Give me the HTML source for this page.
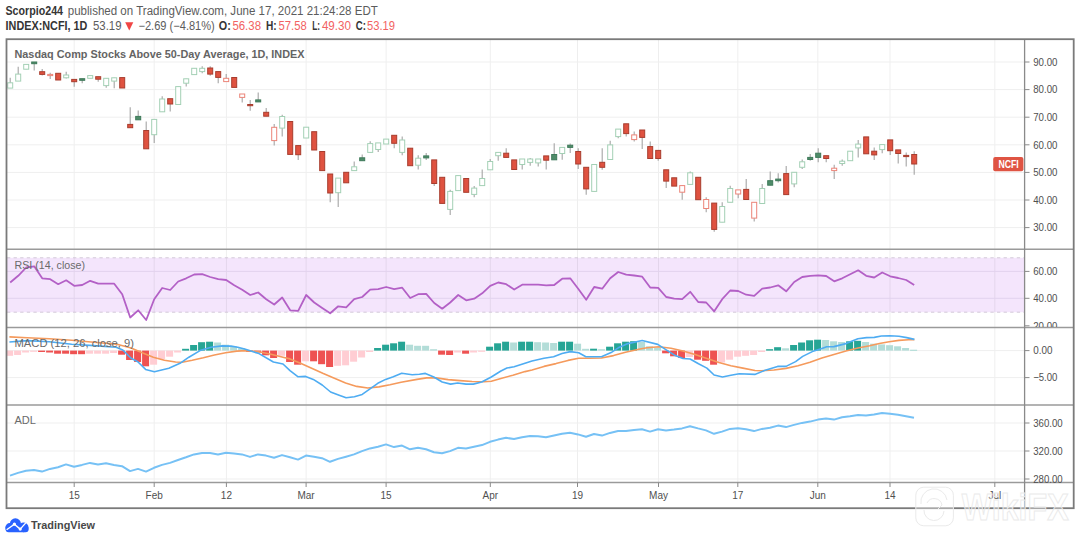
<!DOCTYPE html>
<html><head><meta charset="utf-8"><style>
html,body{margin:0;padding:0;background:#fff;width:1080px;height:542px;overflow:hidden}
svg{display:block;font-family:"Liberation Sans",sans-serif}
</style></head><body>
<svg width="1080" height="542" viewBox="0 0 1080 542">
<rect x="7" y="257.8" width="1017" height="54.4" fill="#f4e5fc"/>
<line x1="74.2" y1="40" x2="74.2" y2="482" stroke="rgba(0,0,0,0.065)" stroke-width="1"/>
<line x1="154.2" y1="40" x2="154.2" y2="482" stroke="rgba(0,0,0,0.065)" stroke-width="1"/>
<line x1="226.4" y1="40" x2="226.4" y2="482" stroke="rgba(0,0,0,0.065)" stroke-width="1"/>
<line x1="306.1" y1="40" x2="306.1" y2="482" stroke="rgba(0,0,0,0.065)" stroke-width="1"/>
<line x1="386.1" y1="40" x2="386.1" y2="482" stroke="rgba(0,0,0,0.065)" stroke-width="1"/>
<line x1="490.3" y1="40" x2="490.3" y2="482" stroke="rgba(0,0,0,0.065)" stroke-width="1"/>
<line x1="577.5" y1="40" x2="577.5" y2="482" stroke="rgba(0,0,0,0.065)" stroke-width="1"/>
<line x1="658.5" y1="40" x2="658.5" y2="482" stroke="rgba(0,0,0,0.065)" stroke-width="1"/>
<line x1="737.8" y1="40" x2="737.8" y2="482" stroke="rgba(0,0,0,0.065)" stroke-width="1"/>
<line x1="817.8" y1="40" x2="817.8" y2="482" stroke="rgba(0,0,0,0.065)" stroke-width="1"/>
<line x1="890" y1="40" x2="890" y2="482" stroke="rgba(0,0,0,0.065)" stroke-width="1"/>
<line x1="994.8" y1="40" x2="994.8" y2="482" stroke="rgba(0,0,0,0.065)" stroke-width="1"/>
<line x1="7" y1="62.0" x2="1024" y2="62.0" stroke="#efefef" stroke-width="1"/>
<line x1="7" y1="89.6" x2="1024" y2="89.6" stroke="#efefef" stroke-width="1"/>
<line x1="7" y1="117.2" x2="1024" y2="117.2" stroke="#efefef" stroke-width="1"/>
<line x1="7" y1="144.8" x2="1024" y2="144.8" stroke="#efefef" stroke-width="1"/>
<line x1="7" y1="172.4" x2="1024" y2="172.4" stroke="#efefef" stroke-width="1"/>
<line x1="7" y1="200.0" x2="1024" y2="200.0" stroke="#efefef" stroke-width="1"/>
<line x1="7" y1="227.6" x2="1024" y2="227.6" stroke="#efefef" stroke-width="1"/>
<line x1="7" y1="271.4" x2="1024" y2="271.4" stroke="#e2d2ee" stroke-width="1"/>
<line x1="7" y1="298.3" x2="1024" y2="298.3" stroke="#e2d2ee" stroke-width="1"/>
<line x1="7" y1="257.8" x2="1024" y2="257.8" stroke="#d2c8d8" stroke-width="1" stroke-dasharray="3.3,3.3"/>
<line x1="7" y1="312.2" x2="1024" y2="312.2" stroke="#d2c8d8" stroke-width="1" stroke-dasharray="3.3,3.3"/>
<line x1="7" y1="350.6" x2="1024" y2="350.6" stroke="#efefef" stroke-width="1"/>
<line x1="7" y1="377.6" x2="1024" y2="377.6" stroke="#efefef" stroke-width="1"/>
<line x1="7" y1="423" x2="1024" y2="423" stroke="#efefef" stroke-width="1"/>
<line x1="7" y1="451" x2="1024" y2="451" stroke="#efefef" stroke-width="1"/>
<line x1="7" y1="479" x2="1024" y2="479" stroke="#efefef" stroke-width="1"/>
<line x1="10.2" y1="77.8" x2="10.2" y2="88.1" stroke="#a4a4a4" stroke-width="1.1"/>
<rect x="7.7" y="82.8" width="5" height="5.3" fill="#ffffff" stroke="#a3d0b5" stroke-width="1"/>
<line x1="18.2" y1="66.7" x2="18.2" y2="81.1" stroke="#a4a4a4" stroke-width="1.1"/>
<rect x="15.7" y="74.1" width="5" height="7.0" fill="#ffffff" stroke="#a3d0b5" stroke-width="1"/>
<line x1="26.2" y1="64.4" x2="26.2" y2="69.2" stroke="#a4a4a4" stroke-width="1.1"/>
<rect x="23.7" y="64.4" width="5" height="4.8" fill="#ffffff" stroke="#a3d0b5" stroke-width="1"/>
<line x1="34.2" y1="62.0" x2="34.2" y2="70.6" stroke="#a4a4a4" stroke-width="1.1"/>
<rect x="31.7" y="62.0" width="5" height="1.7" fill="#4f8c69" stroke="#3f7a5a" stroke-width="1"/>
<line x1="42.2" y1="68.9" x2="42.2" y2="75.6" stroke="#a4a4a4" stroke-width="1.1"/>
<rect x="39.7" y="71.7" width="5" height="2.7" fill="#df5240" stroke="#a83d2e" stroke-width="1"/>
<line x1="50.2" y1="72.8" x2="50.2" y2="78.9" stroke="#a4a4a4" stroke-width="1.1"/>
<rect x="47.7" y="74.4" width="5" height="1.2" fill="#ffffff" stroke="#ec8478" stroke-width="1"/>
<line x1="58.2" y1="73.3" x2="58.2" y2="80.0" stroke="#a4a4a4" stroke-width="1.1"/>
<rect x="55.7" y="73.3" width="5" height="6.7" fill="#df5240" stroke="#a83d2e" stroke-width="1"/>
<line x1="66.2" y1="71.7" x2="66.2" y2="78.5" stroke="#a4a4a4" stroke-width="1.1"/>
<rect x="63.7" y="75.0" width="5" height="2.8" fill="#ffffff" stroke="#a3d0b5" stroke-width="1"/>
<line x1="74.2" y1="79.4" x2="74.2" y2="86.7" stroke="#a4a4a4" stroke-width="1.1"/>
<rect x="71.7" y="79.4" width="5" height="2.3" fill="#df5240" stroke="#a83d2e" stroke-width="1"/>
<line x1="82.2" y1="78.7" x2="82.2" y2="83.3" stroke="#a4a4a4" stroke-width="1.1"/>
<rect x="79.7" y="78.7" width="5" height="1.6" fill="#4f8c69" stroke="#3f7a5a" stroke-width="1"/>
<line x1="90.2" y1="75.6" x2="90.2" y2="78.3" stroke="#a4a4a4" stroke-width="1.1"/>
<rect x="87.7" y="75.6" width="5" height="2.7" fill="#ffffff" stroke="#a3d0b5" stroke-width="1"/>
<line x1="98.2" y1="76.7" x2="98.2" y2="81.7" stroke="#a4a4a4" stroke-width="1.1"/>
<rect x="95.7" y="76.7" width="5" height="2.5" fill="#df5240" stroke="#a83d2e" stroke-width="1"/>
<line x1="106.2" y1="78.3" x2="106.2" y2="87.8" stroke="#a4a4a4" stroke-width="1.1"/>
<rect x="103.7" y="78.3" width="5" height="7.3" fill="#ffffff" stroke="#a3d0b5" stroke-width="1"/>
<line x1="114.2" y1="77.8" x2="114.2" y2="88.3" stroke="#a4a4a4" stroke-width="1.1"/>
<rect x="111.7" y="77.8" width="5" height="3.3" fill="#ffffff" stroke="#a3d0b5" stroke-width="1"/>
<line x1="122.2" y1="77.6" x2="122.2" y2="88.0" stroke="#a4a4a4" stroke-width="1.1"/>
<rect x="119.7" y="77.6" width="5" height="10.4" fill="#df5240" stroke="#a83d2e" stroke-width="1"/>
<line x1="130.2" y1="107.3" x2="130.2" y2="127.7" stroke="#a4a4a4" stroke-width="1.1"/>
<rect x="127.7" y="124.4" width="5" height="3.3" fill="#df5240" stroke="#a83d2e" stroke-width="1"/>
<line x1="138.2" y1="110.6" x2="138.2" y2="119.8" stroke="#a4a4a4" stroke-width="1.1"/>
<rect x="135.7" y="116.4" width="5" height="3.4" fill="#4f8c69" stroke="#3f7a5a" stroke-width="1"/>
<line x1="146.2" y1="121.4" x2="146.2" y2="148.8" stroke="#a4a4a4" stroke-width="1.1"/>
<rect x="143.7" y="130.5" width="5" height="18.3" fill="#df5240" stroke="#a83d2e" stroke-width="1"/>
<line x1="154.2" y1="119.4" x2="154.2" y2="143.0" stroke="#a4a4a4" stroke-width="1.1"/>
<rect x="151.7" y="119.4" width="5" height="15.3" fill="#ffffff" stroke="#a3d0b5" stroke-width="1"/>
<line x1="162.2" y1="96.2" x2="162.2" y2="111.8" stroke="#a4a4a4" stroke-width="1.1"/>
<rect x="159.7" y="99.0" width="5" height="12.8" fill="#ffffff" stroke="#a3d0b5" stroke-width="1"/>
<line x1="170.2" y1="98.7" x2="170.2" y2="111.5" stroke="#a4a4a4" stroke-width="1.1"/>
<rect x="167.7" y="98.7" width="5" height="5.3" fill="#df5240" stroke="#a83d2e" stroke-width="1"/>
<line x1="178.2" y1="86.6" x2="178.2" y2="104.5" stroke="#a4a4a4" stroke-width="1.1"/>
<rect x="175.7" y="86.6" width="5" height="17.9" fill="#ffffff" stroke="#a3d0b5" stroke-width="1"/>
<line x1="186.2" y1="78.8" x2="186.2" y2="86.6" stroke="#a4a4a4" stroke-width="1.1"/>
<rect x="183.7" y="78.8" width="5" height="4.4" fill="#ffffff" stroke="#a3d0b5" stroke-width="1"/>
<line x1="194.2" y1="68.3" x2="194.2" y2="74.6" stroke="#a4a4a4" stroke-width="1.1"/>
<rect x="191.7" y="68.3" width="5" height="6.3" fill="#ffffff" stroke="#a3d0b5" stroke-width="1"/>
<line x1="202.2" y1="66.3" x2="202.2" y2="73.3" stroke="#a4a4a4" stroke-width="1.1"/>
<rect x="199.7" y="68.3" width="5" height="3.3" fill="#ffffff" stroke="#a3d0b5" stroke-width="1"/>
<line x1="210.2" y1="66.3" x2="210.2" y2="75.8" stroke="#a4a4a4" stroke-width="1.1"/>
<rect x="207.7" y="68.0" width="5" height="6.1" fill="#df5240" stroke="#a83d2e" stroke-width="1"/>
<line x1="218.2" y1="71.6" x2="218.2" y2="83.2" stroke="#a4a4a4" stroke-width="1.1"/>
<rect x="215.7" y="71.6" width="5" height="5.8" fill="#df5240" stroke="#a83d2e" stroke-width="1"/>
<line x1="226.2" y1="74.1" x2="226.2" y2="81.6" stroke="#a4a4a4" stroke-width="1.1"/>
<rect x="223.7" y="78.3" width="5" height="3.3" fill="#ffffff" stroke="#ec8478" stroke-width="1"/>
<line x1="234.2" y1="77.5" x2="234.2" y2="87.4" stroke="#a4a4a4" stroke-width="1.1"/>
<rect x="231.7" y="77.5" width="5" height="9.9" fill="#df5240" stroke="#a83d2e" stroke-width="1"/>
<line x1="242.2" y1="94.0" x2="242.2" y2="102.4" stroke="#a4a4a4" stroke-width="1.1"/>
<rect x="239.7" y="94.0" width="5" height="3.4" fill="#ffffff" stroke="#ec8478" stroke-width="1"/>
<line x1="250.2" y1="99.9" x2="250.2" y2="110.7" stroke="#a4a4a4" stroke-width="1.1"/>
<rect x="247.7" y="104.5" width="5" height="1.2" fill="#df5240" stroke="#a83d2e" stroke-width="1"/>
<line x1="258.2" y1="92.4" x2="258.2" y2="101.9" stroke="#a4a4a4" stroke-width="1.1"/>
<rect x="255.7" y="99.9" width="5" height="2.0" fill="#4f8c69" stroke="#3f7a5a" stroke-width="1"/>
<line x1="266.2" y1="107.9" x2="266.2" y2="116.2" stroke="#a4a4a4" stroke-width="1.1"/>
<rect x="263.7" y="112.3" width="5" height="3.9" fill="#df5240" stroke="#a83d2e" stroke-width="1"/>
<line x1="274.2" y1="124.0" x2="274.2" y2="145.6" stroke="#a4a4a4" stroke-width="1.1"/>
<rect x="271.7" y="127.3" width="5" height="13.3" fill="#ffffff" stroke="#ec8478" stroke-width="1"/>
<line x1="282.2" y1="114.8" x2="282.2" y2="136.4" stroke="#a4a4a4" stroke-width="1.1"/>
<rect x="279.7" y="116.5" width="5" height="11.6" fill="#ffffff" stroke="#a3d0b5" stroke-width="1"/>
<line x1="290.2" y1="121.5" x2="290.2" y2="154.4" stroke="#a4a4a4" stroke-width="1.1"/>
<rect x="287.7" y="121.5" width="5" height="32.9" fill="#df5240" stroke="#a83d2e" stroke-width="1"/>
<line x1="298.2" y1="145.6" x2="298.2" y2="160.0" stroke="#a4a4a4" stroke-width="1.1"/>
<rect x="295.7" y="145.6" width="5" height="9.1" fill="#df5240" stroke="#a83d2e" stroke-width="1"/>
<line x1="306.2" y1="127.2" x2="306.2" y2="138.0" stroke="#a4a4a4" stroke-width="1.1"/>
<rect x="303.7" y="127.2" width="5" height="10.8" fill="#ffffff" stroke="#a3d0b5" stroke-width="1"/>
<line x1="314.2" y1="131.7" x2="314.2" y2="150.0" stroke="#a4a4a4" stroke-width="1.1"/>
<rect x="311.7" y="131.7" width="5" height="18.3" fill="#df5240" stroke="#a83d2e" stroke-width="1"/>
<line x1="322.2" y1="151.5" x2="322.2" y2="170.6" stroke="#a4a4a4" stroke-width="1.1"/>
<rect x="319.7" y="151.5" width="5" height="19.1" fill="#df5240" stroke="#a83d2e" stroke-width="1"/>
<line x1="330.2" y1="174.0" x2="330.2" y2="202.2" stroke="#a4a4a4" stroke-width="1.1"/>
<rect x="327.7" y="174.0" width="5" height="19.0" fill="#df5240" stroke="#a83d2e" stroke-width="1"/>
<line x1="338.2" y1="178.1" x2="338.2" y2="207.0" stroke="#a4a4a4" stroke-width="1.1"/>
<rect x="335.7" y="178.1" width="5" height="14.6" fill="#ffffff" stroke="#a3d0b5" stroke-width="1"/>
<line x1="346.2" y1="172.3" x2="346.2" y2="182.8" stroke="#a4a4a4" stroke-width="1.1"/>
<rect x="343.7" y="172.3" width="5" height="10.5" fill="#df5240" stroke="#a83d2e" stroke-width="1"/>
<line x1="354.2" y1="161.5" x2="354.2" y2="170.6" stroke="#a4a4a4" stroke-width="1.1"/>
<rect x="351.7" y="166.8" width="5" height="3.8" fill="#ffffff" stroke="#a3d0b5" stroke-width="1"/>
<line x1="362.2" y1="154.5" x2="362.2" y2="160.7" stroke="#a4a4a4" stroke-width="1.1"/>
<rect x="359.7" y="157.8" width="5" height="2.9" fill="#4f8c69" stroke="#3f7a5a" stroke-width="1"/>
<line x1="370.2" y1="141.2" x2="370.2" y2="152.4" stroke="#a4a4a4" stroke-width="1.1"/>
<rect x="367.7" y="143.6" width="5" height="8.8" fill="#ffffff" stroke="#a3d0b5" stroke-width="1"/>
<line x1="378.2" y1="142.9" x2="378.2" y2="151.9" stroke="#a4a4a4" stroke-width="1.1"/>
<rect x="375.7" y="142.9" width="5" height="6.6" fill="#ffffff" stroke="#a3d0b5" stroke-width="1"/>
<line x1="386.2" y1="139.1" x2="386.2" y2="144.0" stroke="#a4a4a4" stroke-width="1.1"/>
<rect x="383.7" y="139.1" width="5" height="4.9" fill="#ffffff" stroke="#a3d0b5" stroke-width="1"/>
<line x1="394.2" y1="135.3" x2="394.2" y2="148.2" stroke="#a4a4a4" stroke-width="1.1"/>
<rect x="391.7" y="135.3" width="5" height="8.0" fill="#df5240" stroke="#a83d2e" stroke-width="1"/>
<line x1="402.2" y1="136.6" x2="402.2" y2="155.2" stroke="#a4a4a4" stroke-width="1.1"/>
<rect x="399.7" y="140.0" width="5" height="12.4" fill="#ffffff" stroke="#a3d0b5" stroke-width="1"/>
<line x1="410.2" y1="148.2" x2="410.2" y2="165.7" stroke="#a4a4a4" stroke-width="1.1"/>
<rect x="407.7" y="148.2" width="5" height="17.5" fill="#df5240" stroke="#a83d2e" stroke-width="1"/>
<line x1="418.2" y1="155.2" x2="418.2" y2="169.5" stroke="#a4a4a4" stroke-width="1.1"/>
<rect x="415.7" y="158.2" width="5" height="7.0" fill="#ffffff" stroke="#a3d0b5" stroke-width="1"/>
<line x1="426.2" y1="152.9" x2="426.2" y2="159.9" stroke="#a4a4a4" stroke-width="1.1"/>
<rect x="423.7" y="155.9" width="5" height="2.0" fill="#4f8c69" stroke="#3f7a5a" stroke-width="1"/>
<line x1="434.2" y1="159.9" x2="434.2" y2="186.1" stroke="#a4a4a4" stroke-width="1.1"/>
<rect x="431.7" y="159.9" width="5" height="23.6" fill="#df5240" stroke="#a83d2e" stroke-width="1"/>
<line x1="442.2" y1="177.3" x2="442.2" y2="203.4" stroke="#a4a4a4" stroke-width="1.1"/>
<rect x="439.7" y="177.3" width="5" height="26.1" fill="#df5240" stroke="#a83d2e" stroke-width="1"/>
<line x1="450.2" y1="189.8" x2="450.2" y2="215.0" stroke="#a4a4a4" stroke-width="1.1"/>
<rect x="447.7" y="191.4" width="5" height="18.0" fill="#ffffff" stroke="#a3d0b5" stroke-width="1"/>
<line x1="458.2" y1="175.6" x2="458.2" y2="190.6" stroke="#a4a4a4" stroke-width="1.1"/>
<rect x="455.7" y="175.6" width="5" height="15.0" fill="#ffffff" stroke="#a3d0b5" stroke-width="1"/>
<line x1="466.2" y1="178.5" x2="466.2" y2="192.3" stroke="#a4a4a4" stroke-width="1.1"/>
<rect x="463.7" y="178.5" width="5" height="13.8" fill="#df5240" stroke="#a83d2e" stroke-width="1"/>
<line x1="474.2" y1="186.1" x2="474.2" y2="197.2" stroke="#a4a4a4" stroke-width="1.1"/>
<rect x="471.7" y="188.1" width="5" height="6.3" fill="#ffffff" stroke="#a3d0b5" stroke-width="1"/>
<line x1="482.2" y1="169.5" x2="482.2" y2="185.6" stroke="#a4a4a4" stroke-width="1.1"/>
<rect x="479.7" y="178.5" width="5" height="7.1" fill="#ffffff" stroke="#a3d0b5" stroke-width="1"/>
<line x1="490.2" y1="159.0" x2="490.2" y2="169.8" stroke="#a4a4a4" stroke-width="1.1"/>
<rect x="487.7" y="161.5" width="5" height="8.3" fill="#ffffff" stroke="#a3d0b5" stroke-width="1"/>
<line x1="498.2" y1="152.4" x2="498.2" y2="160.7" stroke="#a4a4a4" stroke-width="1.1"/>
<rect x="495.7" y="152.4" width="5" height="3.3" fill="#ffffff" stroke="#a3d0b5" stroke-width="1"/>
<line x1="506.2" y1="148.2" x2="506.2" y2="157.4" stroke="#a4a4a4" stroke-width="1.1"/>
<rect x="503.7" y="153.2" width="5" height="4.2" fill="#df5240" stroke="#a83d2e" stroke-width="1"/>
<line x1="514.2" y1="159.9" x2="514.2" y2="169.5" stroke="#a4a4a4" stroke-width="1.1"/>
<rect x="511.7" y="159.9" width="5" height="9.6" fill="#df5240" stroke="#a83d2e" stroke-width="1"/>
<line x1="522.2" y1="159.0" x2="522.2" y2="169.5" stroke="#a4a4a4" stroke-width="1.1"/>
<rect x="519.7" y="159.0" width="5" height="5.5" fill="#ffffff" stroke="#a3d0b5" stroke-width="1"/>
<line x1="530.2" y1="157.9" x2="530.2" y2="165.7" stroke="#a4a4a4" stroke-width="1.1"/>
<rect x="527.7" y="159.0" width="5" height="3.4" fill="#ffffff" stroke="#a3d0b5" stroke-width="1"/>
<line x1="538.2" y1="159.0" x2="538.2" y2="166.5" stroke="#a4a4a4" stroke-width="1.1"/>
<rect x="535.7" y="159.0" width="5" height="3.9" fill="#ffffff" stroke="#a3d0b5" stroke-width="1"/>
<line x1="546.2" y1="155.9" x2="546.2" y2="169.5" stroke="#a4a4a4" stroke-width="1.1"/>
<rect x="543.7" y="155.9" width="5" height="4.3" fill="#df5240" stroke="#a83d2e" stroke-width="1"/>
<line x1="554.2" y1="143.2" x2="554.2" y2="159.8" stroke="#a4a4a4" stroke-width="1.1"/>
<rect x="551.7" y="154.5" width="5" height="5.3" fill="#4f8c69" stroke="#3f7a5a" stroke-width="1"/>
<line x1="562.2" y1="147.4" x2="562.2" y2="159.8" stroke="#a4a4a4" stroke-width="1.1"/>
<rect x="559.7" y="147.4" width="5" height="6.1" fill="#ffffff" stroke="#a3d0b5" stroke-width="1"/>
<line x1="570.2" y1="143.6" x2="570.2" y2="152.9" stroke="#a4a4a4" stroke-width="1.1"/>
<rect x="567.7" y="145.2" width="5" height="2.2" fill="#4f8c69" stroke="#3f7a5a" stroke-width="1"/>
<line x1="578.2" y1="148.2" x2="578.2" y2="169.0" stroke="#a4a4a4" stroke-width="1.1"/>
<rect x="575.7" y="151.5" width="5" height="12.5" fill="#df5240" stroke="#a83d2e" stroke-width="1"/>
<line x1="586.2" y1="167.3" x2="586.2" y2="194.7" stroke="#a4a4a4" stroke-width="1.1"/>
<rect x="583.7" y="167.3" width="5" height="21.6" fill="#df5240" stroke="#a83d2e" stroke-width="1"/>
<line x1="594.2" y1="164.5" x2="594.2" y2="191.4" stroke="#a4a4a4" stroke-width="1.1"/>
<rect x="591.7" y="164.5" width="5" height="26.9" fill="#ffffff" stroke="#a3d0b5" stroke-width="1"/>
<line x1="602.2" y1="148.2" x2="602.2" y2="169.8" stroke="#a4a4a4" stroke-width="1.1"/>
<rect x="599.7" y="162.3" width="5" height="5.0" fill="#df5240" stroke="#a83d2e" stroke-width="1"/>
<line x1="610.2" y1="140.7" x2="610.2" y2="159.5" stroke="#a4a4a4" stroke-width="1.1"/>
<rect x="607.7" y="144.9" width="5" height="14.6" fill="#ffffff" stroke="#a3d0b5" stroke-width="1"/>
<line x1="618.2" y1="129.1" x2="618.2" y2="138.2" stroke="#a4a4a4" stroke-width="1.1"/>
<rect x="615.7" y="129.1" width="5" height="7.5" fill="#ffffff" stroke="#a3d0b5" stroke-width="1"/>
<line x1="626.2" y1="123.8" x2="626.2" y2="136.6" stroke="#a4a4a4" stroke-width="1.1"/>
<rect x="623.7" y="123.8" width="5" height="9.8" fill="#df5240" stroke="#a83d2e" stroke-width="1"/>
<line x1="634.2" y1="131.6" x2="634.2" y2="141.6" stroke="#a4a4a4" stroke-width="1.1"/>
<rect x="631.7" y="134.9" width="5" height="4.7" fill="#ffffff" stroke="#ec8478" stroke-width="1"/>
<line x1="642.2" y1="130.0" x2="642.2" y2="149.0" stroke="#a4a4a4" stroke-width="1.1"/>
<rect x="639.7" y="130.0" width="5" height="7.4" fill="#df5240" stroke="#a83d2e" stroke-width="1"/>
<line x1="650.2" y1="141.6" x2="650.2" y2="158.5" stroke="#a4a4a4" stroke-width="1.1"/>
<rect x="647.7" y="146.6" width="5" height="11.9" fill="#df5240" stroke="#a83d2e" stroke-width="1"/>
<line x1="658.2" y1="150.4" x2="658.2" y2="160.7" stroke="#a4a4a4" stroke-width="1.1"/>
<rect x="655.7" y="150.4" width="5" height="8.1" fill="#df5240" stroke="#a83d2e" stroke-width="1"/>
<line x1="666.2" y1="169.8" x2="666.2" y2="188.0" stroke="#a4a4a4" stroke-width="1.1"/>
<rect x="663.7" y="169.8" width="5" height="11.3" fill="#df5240" stroke="#a83d2e" stroke-width="1"/>
<line x1="674.2" y1="177.8" x2="674.2" y2="186.1" stroke="#a4a4a4" stroke-width="1.1"/>
<rect x="671.7" y="177.8" width="5" height="8.3" fill="#df5240" stroke="#a83d2e" stroke-width="1"/>
<line x1="682.2" y1="185.6" x2="682.2" y2="199.7" stroke="#a4a4a4" stroke-width="1.1"/>
<rect x="679.7" y="185.6" width="5" height="6.6" fill="#ffffff" stroke="#ec8478" stroke-width="1"/>
<line x1="690.2" y1="171.5" x2="690.2" y2="184.4" stroke="#a4a4a4" stroke-width="1.1"/>
<rect x="687.7" y="172.8" width="5" height="11.6" fill="#ffffff" stroke="#a3d0b5" stroke-width="1"/>
<line x1="698.2" y1="177.3" x2="698.2" y2="199.7" stroke="#a4a4a4" stroke-width="1.1"/>
<rect x="695.7" y="177.3" width="5" height="22.4" fill="#df5240" stroke="#a83d2e" stroke-width="1"/>
<line x1="706.2" y1="197.3" x2="706.2" y2="212.3" stroke="#a4a4a4" stroke-width="1.1"/>
<rect x="703.7" y="199.5" width="5" height="9.0" fill="#ffffff" stroke="#ec8478" stroke-width="1"/>
<line x1="714.2" y1="203.1" x2="714.2" y2="231.7" stroke="#a4a4a4" stroke-width="1.1"/>
<rect x="711.7" y="203.1" width="5" height="26.3" fill="#df5240" stroke="#a83d2e" stroke-width="1"/>
<line x1="722.2" y1="202.3" x2="722.2" y2="222.2" stroke="#a4a4a4" stroke-width="1.1"/>
<rect x="719.7" y="206.5" width="5" height="15.7" fill="#ffffff" stroke="#a3d0b5" stroke-width="1"/>
<line x1="730.2" y1="185.7" x2="730.2" y2="202.3" stroke="#a4a4a4" stroke-width="1.1"/>
<rect x="727.7" y="188.5" width="5" height="13.8" fill="#ffffff" stroke="#a3d0b5" stroke-width="1"/>
<line x1="738.2" y1="189.9" x2="738.2" y2="198.2" stroke="#a4a4a4" stroke-width="1.1"/>
<rect x="735.7" y="189.9" width="5" height="4.1" fill="#ffffff" stroke="#ec8478" stroke-width="1"/>
<line x1="746.2" y1="179.1" x2="746.2" y2="199.5" stroke="#a4a4a4" stroke-width="1.1"/>
<rect x="743.7" y="189.4" width="5" height="10.1" fill="#df5240" stroke="#a83d2e" stroke-width="1"/>
<line x1="754.2" y1="202.3" x2="754.2" y2="221.4" stroke="#a4a4a4" stroke-width="1.1"/>
<rect x="751.7" y="202.3" width="5" height="15.8" fill="#ffffff" stroke="#ec8478" stroke-width="1"/>
<line x1="762.2" y1="184.0" x2="762.2" y2="203.5" stroke="#a4a4a4" stroke-width="1.1"/>
<rect x="759.7" y="188.5" width="5" height="15.0" fill="#ffffff" stroke="#a3d0b5" stroke-width="1"/>
<line x1="770.2" y1="171.6" x2="770.2" y2="185.2" stroke="#a4a4a4" stroke-width="1.1"/>
<rect x="767.7" y="180.7" width="5" height="4.5" fill="#4f8c69" stroke="#3f7a5a" stroke-width="1"/>
<line x1="778.2" y1="173.2" x2="778.2" y2="182.4" stroke="#a4a4a4" stroke-width="1.1"/>
<rect x="775.7" y="179.1" width="5" height="1.6" fill="#4f8c69" stroke="#3f7a5a" stroke-width="1"/>
<line x1="786.2" y1="166.0" x2="786.2" y2="194.6" stroke="#a4a4a4" stroke-width="1.1"/>
<rect x="783.7" y="173.6" width="5" height="21.0" fill="#df5240" stroke="#a83d2e" stroke-width="1"/>
<line x1="794.2" y1="172.3" x2="794.2" y2="187.3" stroke="#a4a4a4" stroke-width="1.1"/>
<rect x="791.7" y="172.3" width="5" height="11.6" fill="#ffffff" stroke="#a3d0b5" stroke-width="1"/>
<line x1="802.2" y1="159.5" x2="802.2" y2="169.0" stroke="#a4a4a4" stroke-width="1.1"/>
<rect x="799.7" y="161.8" width="5" height="5.5" fill="#ffffff" stroke="#a3d0b5" stroke-width="1"/>
<line x1="810.2" y1="154.0" x2="810.2" y2="160.7" stroke="#a4a4a4" stroke-width="1.1"/>
<rect x="807.7" y="157.4" width="5" height="2.1" fill="#4f8c69" stroke="#3f7a5a" stroke-width="1"/>
<line x1="818.2" y1="148.2" x2="818.2" y2="162.3" stroke="#a4a4a4" stroke-width="1.1"/>
<rect x="815.7" y="153.2" width="5" height="4.2" fill="#4f8c69" stroke="#3f7a5a" stroke-width="1"/>
<line x1="826.2" y1="155.7" x2="826.2" y2="162.3" stroke="#a4a4a4" stroke-width="1.1"/>
<rect x="823.7" y="155.7" width="5" height="2.8" fill="#df5240" stroke="#a83d2e" stroke-width="1"/>
<line x1="834.2" y1="164.8" x2="834.2" y2="179.0" stroke="#a4a4a4" stroke-width="1.1"/>
<rect x="831.7" y="168.2" width="5" height="2.4" fill="#ffffff" stroke="#ec8478" stroke-width="1"/>
<line x1="842.2" y1="159.5" x2="842.2" y2="165.7" stroke="#a4a4a4" stroke-width="1.1"/>
<rect x="839.7" y="161.2" width="5" height="2.3" fill="#ffffff" stroke="#a3d0b5" stroke-width="1"/>
<line x1="850.2" y1="151.2" x2="850.2" y2="160.7" stroke="#a4a4a4" stroke-width="1.1"/>
<rect x="847.7" y="151.2" width="5" height="9.5" fill="#ffffff" stroke="#a3d0b5" stroke-width="1"/>
<line x1="858.2" y1="139.9" x2="858.2" y2="157.4" stroke="#a4a4a4" stroke-width="1.1"/>
<rect x="855.7" y="144.1" width="5" height="3.8" fill="#ffffff" stroke="#a3d0b5" stroke-width="1"/>
<line x1="866.2" y1="136.9" x2="866.2" y2="153.8" stroke="#a4a4a4" stroke-width="1.1"/>
<rect x="863.7" y="136.9" width="5" height="16.9" fill="#df5240" stroke="#a83d2e" stroke-width="1"/>
<line x1="874.2" y1="147.4" x2="874.2" y2="159.9" stroke="#a4a4a4" stroke-width="1.1"/>
<rect x="871.7" y="151.2" width="5" height="3.7" fill="#df5240" stroke="#a83d2e" stroke-width="1"/>
<line x1="882.2" y1="144.6" x2="882.2" y2="153.2" stroke="#a4a4a4" stroke-width="1.1"/>
<rect x="879.7" y="144.6" width="5" height="5.0" fill="#ffffff" stroke="#a3d0b5" stroke-width="1"/>
<line x1="890.2" y1="139.9" x2="890.2" y2="154.9" stroke="#a4a4a4" stroke-width="1.1"/>
<rect x="887.7" y="139.9" width="5" height="10.8" fill="#df5240" stroke="#a83d2e" stroke-width="1"/>
<line x1="898.2" y1="149.9" x2="898.2" y2="163.5" stroke="#a4a4a4" stroke-width="1.1"/>
<rect x="895.7" y="149.9" width="5" height="3.6" fill="#df5240" stroke="#a83d2e" stroke-width="1"/>
<line x1="906.2" y1="152.4" x2="906.2" y2="166.5" stroke="#a4a4a4" stroke-width="1.1"/>
<rect x="903.7" y="155.4" width="5" height="1.2" fill="#df5240" stroke="#a83d2e" stroke-width="1"/>
<line x1="914.2" y1="151.2" x2="914.2" y2="174.8" stroke="#a4a4a4" stroke-width="1.1"/>
<rect x="911.7" y="154.5" width="5" height="9.5" fill="#df5240" stroke="#a83d2e" stroke-width="1"/>
<rect x="993.2" y="157" width="30.2" height="14.2" rx="2" fill="#df5443"/>
<text x="998.4" y="167.9" font-size="10.2" font-weight="700" fill="#fff" textLength="20.4" lengthAdjust="spacingAndGlyphs">NCFI</text>
<polyline points="10.2,282.5 18.2,275.8 26.2,267.5 34.2,266.3 42.2,278.3 50.2,279.2 58.2,284.2 66.2,280.3 74.2,285.8 82.2,285.0 90.2,280.8 98.2,283.7 106.2,283.7 114.2,283.7 122.2,294.2 130.2,317.5 138.2,310.3 146.2,320.0 154.2,299.2 162.2,288.0 170.2,290.0 178.2,281.5 186.2,278.3 194.2,274.5 202.2,274.2 210.2,277.0 218.2,279.2 226.2,280.0 234.2,285.3 242.2,289.7 250.2,295.0 258.2,292.5 266.2,299.2 274.2,304.5 282.2,297.5 290.2,310.3 298.2,310.8 306.2,295.0 314.2,302.5 322.2,308.0 330.2,313.3 338.2,306.3 346.2,307.3 354.2,299.2 362.2,297.0 370.2,289.7 378.2,289.2 386.2,287.0 394.2,289.2 402.2,287.7 410.2,298.0 418.2,294.2 426.2,293.8 434.2,303.0 442.2,308.7 450.2,302.5 458.2,295.0 466.2,300.3 474.2,298.7 482.2,293.3 490.2,285.8 498.2,282.5 506.2,284.2 514.2,289.5 522.2,284.7 530.2,284.7 538.2,284.7 546.2,285.3 554.2,285.0 562.2,278.7 570.2,278.3 578.2,288.7 586.2,299.7 594.2,287.0 602.2,288.7 610.2,278.3 618.2,272.0 626.2,274.7 634.2,275.5 642.2,276.7 650.2,287.5 658.2,287.8 666.2,297.0 674.2,298.7 682.2,299.2 690.2,291.8 698.2,302.0 706.2,302.5 714.2,311.3 722.2,299.2 730.2,290.5 738.2,291.0 746.2,294.7 754.2,295.8 762.2,288.7 770.2,287.5 778.2,285.3 786.2,291.3 794.2,282.0 802.2,277.0 810.2,275.8 818.2,275.3 826.2,276.0 834.2,281.3 842.2,278.3 850.2,274.2 858.2,270.3 866.2,275.8 874.2,277.5 882.2,272.5 890.2,276.3 898.2,278.0 906.2,280.0 914.2,285.0" fill="none" stroke="#b360c6" stroke-width="1.8" stroke-linejoin="round"/>
<rect x="6.1" y="350.6" width="7" height="5.2" fill="#ffcdd3"/>
<rect x="14.1" y="350.6" width="7" height="4.4" fill="#ffcdd3"/>
<rect x="22.1" y="350.6" width="7" height="1.9" fill="#ffcdd3"/>
<rect x="30.1" y="350.6" width="7" height="1.2" fill="#ffcdd3"/>
<rect x="38.1" y="350.6" width="7" height="1.4" fill="#ee5252"/>
<rect x="46.1" y="350.6" width="7" height="1.9" fill="#ee5252"/>
<rect x="54.1" y="350.6" width="7" height="3.1" fill="#ee5252"/>
<rect x="62.1" y="350.6" width="7" height="3.1" fill="#ee5252"/>
<rect x="70.1" y="350.6" width="7" height="3.6" fill="#ee5252"/>
<rect x="78.1" y="350.6" width="7" height="3.6" fill="#ee5252"/>
<rect x="86.1" y="350.6" width="7" height="3.1" fill="#ffcdd3"/>
<rect x="94.1" y="350.6" width="7" height="3.1" fill="#ffcdd3"/>
<rect x="102.1" y="350.6" width="7" height="3.1" fill="#ffcdd3"/>
<rect x="110.1" y="350.6" width="7" height="2.4" fill="#ffcdd3"/>
<rect x="118.1" y="350.6" width="7" height="4.1" fill="#ee5252"/>
<rect x="126.1" y="350.6" width="7" height="9.4" fill="#ee5252"/>
<rect x="134.1" y="350.6" width="7" height="11.4" fill="#ee5252"/>
<rect x="142.1" y="350.6" width="7" height="15.7" fill="#ee5252"/>
<rect x="150.1" y="350.6" width="7" height="14.1" fill="#ffcdd3"/>
<rect x="158.1" y="350.6" width="7" height="8.6" fill="#ffcdd3"/>
<rect x="166.1" y="350.6" width="7" height="6.1" fill="#ffcdd3"/>
<rect x="174.1" y="350.6" width="7" height="1.9" fill="#ffcdd3"/>
<rect x="182.1" y="348.8" width="7" height="1.8" fill="#26a595"/>
<rect x="190.1" y="345.0" width="7" height="5.6" fill="#26a595"/>
<rect x="198.1" y="342.2" width="7" height="8.4" fill="#26a595"/>
<rect x="206.1" y="341.7" width="7" height="8.9" fill="#26a595"/>
<rect x="214.1" y="342.5" width="7" height="8.1" fill="#b3ddd8"/>
<rect x="222.1" y="344.7" width="7" height="5.9" fill="#b3ddd8"/>
<rect x="230.1" y="346.3" width="7" height="4.3" fill="#b3ddd8"/>
<rect x="238.1" y="348.2" width="7" height="2.4" fill="#b3ddd8"/>
<rect x="246.1" y="350.6" width="7" height="1.4" fill="#ee5252"/>
<rect x="254.1" y="350.6" width="7" height="1.9" fill="#ee5252"/>
<rect x="262.1" y="350.6" width="7" height="4.7" fill="#ee5252"/>
<rect x="270.1" y="350.6" width="7" height="7.4" fill="#ee5252"/>
<rect x="278.1" y="350.6" width="7" height="5.2" fill="#ffcdd3"/>
<rect x="286.1" y="350.6" width="7" height="11.4" fill="#ee5252"/>
<rect x="294.1" y="350.6" width="7" height="14.1" fill="#ee5252"/>
<rect x="302.1" y="350.6" width="7" height="10.7" fill="#ffcdd3"/>
<rect x="310.1" y="350.6" width="7" height="10.7" fill="#ee5252"/>
<rect x="318.1" y="350.6" width="7" height="13.6" fill="#ee5252"/>
<rect x="326.1" y="350.6" width="7" height="16.4" fill="#ee5252"/>
<rect x="334.1" y="350.6" width="7" height="15.2" fill="#ffcdd3"/>
<rect x="342.1" y="350.6" width="7" height="14.7" fill="#ffcdd3"/>
<rect x="350.1" y="350.6" width="7" height="11.1" fill="#ffcdd3"/>
<rect x="358.1" y="350.6" width="7" height="6.9" fill="#ffcdd3"/>
<rect x="366.1" y="350.6" width="7" height="1.4" fill="#ffcdd3"/>
<rect x="374.1" y="348.0" width="7" height="2.6" fill="#26a595"/>
<rect x="382.1" y="344.7" width="7" height="5.9" fill="#26a595"/>
<rect x="390.1" y="343.3" width="7" height="7.3" fill="#26a595"/>
<rect x="398.1" y="341.7" width="7" height="8.9" fill="#26a595"/>
<rect x="406.1" y="344.7" width="7" height="5.9" fill="#b3ddd8"/>
<rect x="414.1" y="345.8" width="7" height="4.8" fill="#b3ddd8"/>
<rect x="422.1" y="345.8" width="7" height="4.8" fill="#b3ddd8"/>
<rect x="430.1" y="349.2" width="7" height="1.4" fill="#b3ddd8"/>
<rect x="438.1" y="350.6" width="7" height="4.1" fill="#ee5252"/>
<rect x="446.1" y="350.6" width="7" height="4.4" fill="#ee5252"/>
<rect x="454.1" y="350.6" width="7" height="1.9" fill="#ffcdd3"/>
<rect x="462.1" y="350.6" width="7" height="3.1" fill="#ee5252"/>
<rect x="470.1" y="350.6" width="7" height="1.9" fill="#ffcdd3"/>
<rect x="478.1" y="350.6" width="7" height="1.2" fill="#ffcdd3"/>
<rect x="486.1" y="346.7" width="7" height="3.9" fill="#26a595"/>
<rect x="494.1" y="343.3" width="7" height="7.3" fill="#26a595"/>
<rect x="502.1" y="341.7" width="7" height="8.9" fill="#26a595"/>
<rect x="510.1" y="342.5" width="7" height="8.1" fill="#b3ddd8"/>
<rect x="518.1" y="341.7" width="7" height="8.9" fill="#26a595"/>
<rect x="526.1" y="341.7" width="7" height="8.9" fill="#26a595"/>
<rect x="534.1" y="342.2" width="7" height="8.4" fill="#b3ddd8"/>
<rect x="542.1" y="342.5" width="7" height="8.1" fill="#b3ddd8"/>
<rect x="550.1" y="343.0" width="7" height="7.6" fill="#b3ddd8"/>
<rect x="558.1" y="341.7" width="7" height="8.9" fill="#26a595"/>
<rect x="566.1" y="341.7" width="7" height="8.9" fill="#26a595"/>
<rect x="574.1" y="343.7" width="7" height="6.9" fill="#b3ddd8"/>
<rect x="582.1" y="348.8" width="7" height="1.8" fill="#b3ddd8"/>
<rect x="590.1" y="348.7" width="7" height="1.9" fill="#26a595"/>
<rect x="598.1" y="349.2" width="7" height="1.4" fill="#b3ddd8"/>
<rect x="606.1" y="346.7" width="7" height="3.9" fill="#26a595"/>
<rect x="614.1" y="343.3" width="7" height="7.3" fill="#26a595"/>
<rect x="622.1" y="341.7" width="7" height="8.9" fill="#26a595"/>
<rect x="630.1" y="341.2" width="7" height="9.4" fill="#26a595"/>
<rect x="638.1" y="342.0" width="7" height="8.6" fill="#b3ddd8"/>
<rect x="646.1" y="346.3" width="7" height="4.3" fill="#b3ddd8"/>
<rect x="654.1" y="347.5" width="7" height="3.1" fill="#b3ddd8"/>
<rect x="662.1" y="350.6" width="7" height="2.7" fill="#ee5252"/>
<rect x="670.1" y="350.6" width="7" height="5.7" fill="#ee5252"/>
<rect x="678.1" y="350.6" width="7" height="7.4" fill="#ee5252"/>
<rect x="686.1" y="350.6" width="7" height="6.4" fill="#ffcdd3"/>
<rect x="694.1" y="350.6" width="7" height="9.1" fill="#ee5252"/>
<rect x="702.1" y="350.6" width="7" height="10.2" fill="#ee5252"/>
<rect x="710.1" y="350.6" width="7" height="14.1" fill="#ee5252"/>
<rect x="718.1" y="350.6" width="7" height="11.9" fill="#ffcdd3"/>
<rect x="726.1" y="350.6" width="7" height="9.1" fill="#ffcdd3"/>
<rect x="734.1" y="350.6" width="7" height="6.1" fill="#ffcdd3"/>
<rect x="742.1" y="350.6" width="7" height="5.2" fill="#ffcdd3"/>
<rect x="750.1" y="350.6" width="7" height="4.4" fill="#ffcdd3"/>
<rect x="758.1" y="350.6" width="7" height="1.4" fill="#ffcdd3"/>
<rect x="766.1" y="349.2" width="7" height="1.4" fill="#26a595"/>
<rect x="774.1" y="347.2" width="7" height="3.4" fill="#26a595"/>
<rect x="782.1" y="348.3" width="7" height="2.3" fill="#b3ddd8"/>
<rect x="790.1" y="345.0" width="7" height="5.6" fill="#26a595"/>
<rect x="798.1" y="342.5" width="7" height="8.1" fill="#26a595"/>
<rect x="806.1" y="340.3" width="7" height="10.3" fill="#26a595"/>
<rect x="814.1" y="339.7" width="7" height="10.9" fill="#26a595"/>
<rect x="822.1" y="340.0" width="7" height="10.6" fill="#b3ddd8"/>
<rect x="830.1" y="341.3" width="7" height="9.3" fill="#b3ddd8"/>
<rect x="838.1" y="342.0" width="7" height="8.6" fill="#b3ddd8"/>
<rect x="846.1" y="341.3" width="7" height="9.3" fill="#26a595"/>
<rect x="854.1" y="340.8" width="7" height="9.8" fill="#26a595"/>
<rect x="862.1" y="342.0" width="7" height="8.6" fill="#b3ddd8"/>
<rect x="870.1" y="343.7" width="7" height="6.9" fill="#b3ddd8"/>
<rect x="878.1" y="344.4" width="7" height="6.2" fill="#b3ddd8"/>
<rect x="886.1" y="345.2" width="7" height="5.4" fill="#b3ddd8"/>
<rect x="894.1" y="346.3" width="7" height="4.3" fill="#b3ddd8"/>
<rect x="902.1" y="348.0" width="7" height="2.6" fill="#b3ddd8"/>
<rect x="910.1" y="349.7" width="7" height="1.2" fill="#b3ddd8"/>
<polyline points="9.4,336.9 27.2,337.8 49.4,338.7 71.7,340.2 93.9,342.2 116.1,344.1 131.1,348.1 142.2,352.8 153.3,357.2 164.4,360.3 175.6,362 182.2,362.2 192.2,360.3 203.3,357.8 214.4,355 225.6,352.8 236.7,351.1 247,350.6 259,351.8 271,354.2 283,357.2 290,358.9 301.1,363.5 312.2,368.5 323.3,373.5 334.4,378.2 345.6,383 356.7,386.4 367.8,388 378.9,386.9 390,384.7 401.1,382.2 417,379.4 426.6,377.9 436.2,377.9 448.2,379.6 460.1,380.6 472.1,381.5 484.1,381.8 491.3,381.2 500.9,378.4 512.9,375.2 525,371.6 532,370 544,366.4 556,363.6 568,360.4 578.7,358.3 589.5,358.3 601.5,358 613.5,355.6 625.5,352.3 640,349 647,347.7 659,346.8 671,348.2 683,351 695,354.6 706.9,358.5 718.9,362.4 730.9,365.7 742.9,368.1 755,370.5 762,370.8 774,370 786,368.4 798,365.8 810,362.2 821.9,358 833.9,354.4 845.9,351.1 857.9,348 869.7,345.7 879.4,343.5 889.2,341.7 898.9,340.4 908.6,339.8 914.4,339.6" fill="none" stroke="#f59a5c" stroke-width="1.6" stroke-linejoin="round"/>
<polyline points="9.4,342 27.2,340.6 49.4,341.7 71.7,344.2 93.9,345.6 116.1,347.2 122.8,350 125.6,352.8 131.1,358.3 137.8,361.7 145.6,369.4 154.4,371.7 168.9,368.3 180,363.3 188.9,357.2 200,350.6 211.1,347.2 222.2,345.9 231.1,346.1 237.8,347.2 244.6,349.1 259,353.6 273.4,362 283,364 290,370.6 297.8,376.7 305.6,376.4 313.3,379.4 322.2,385 330.6,392 337.8,394.7 346.1,397.8 354.4,396.7 362.2,394.4 370,388.9 377.8,383.3 385.6,379.4 393.3,376.7 401.7,373.3 412.2,374.8 419.4,374.3 425.4,373.4 433.8,377 442.2,382 450.6,384.1 457.7,383 466.1,384.1 473.3,384.1 481.7,382 491.3,377 500.9,371 506.9,368 514.1,366.8 525,363.2 532,361 544,358.3 553.6,356.8 562,353.5 570.3,351.6 578.7,352.8 585.9,356.8 601.5,356.8 611.1,352.6 618.3,347.8 627.9,343.6 642.2,340.5 657.8,344.4 666.2,349.8 674.6,355.2 683,358.5 690.1,359 698.5,363.8 706.9,368.1 714.1,375 722.5,377 730.9,375.3 739.3,373.8 754.8,374.4 764.4,370.6 777.6,366.4 786,366.4 795.6,361.6 802.7,356.4 812.3,351.6 821.9,348.4 826.7,346.8 833.9,346.6 845.9,343.6 857.9,338.8 866.5,337.6 874.3,337.4 881.4,336 889.8,335.7 898.9,336.3 906.7,337.6 914.4,339.4" fill="none" stroke="#4eacf2" stroke-width="1.6" stroke-linejoin="round"/>
<polyline points="10,475.6 18,472.9 26,470.7 34,470 42,471.6 50,468.9 58,467.3 66,464.4 74,466.7 82,464.9 90,462.9 98,464.4 106,463.3 114,464.9 122,466.2 130,471.1 138,468.9 146,471.6 154,467.8 162,464.9 170,462.9 178,460 186,457.3 194,454.4 202,452.9 210,452.9 218,454.4 226,452.7 234,453.5 242,454.4 250,456.9 258,454.4 266,455.6 274,457.8 282,455.1 290,457.3 298,459.6 306,455.6 314,456.7 322,458.2 330,461.8 338,458.9 346,456.7 354,454.4 362,451.1 370,448.4 378,446.7 386,444.4 394,447.1 402,445.6 410,449.3 418,447.8 426,449.3 434,452.2 442,453.3 450,451.1 458,447.8 466,448.4 474,446.7 482,445.1 490,441.8 498,439.6 506,437.8 514,439.1 522,437.3 530,436 538,436.2 546,437.3 554,435.6 562,433.8 570,432.7 578,434.4 586,436.7 594,434 602,435.6 610,432.9 618,431.1 626,431.1 634,430 642,429.3 650,431.6 658,429.3 666,430.4 674,429.6 682,428.4 690,426.2 698,428.4 706,430.4 714,433.8 722,431.6 730,428.9 738,428.2 746,429.3 754,431.1 762,428.9 770,427.8 778,425.6 786,427.1 794,424.9 802,422.9 810,421.6 818,419.6 826,418.4 834,419.6 842,417.3 850,416.2 858,414.9 866,415.6 874,414.4 882,412.9 890,413.8 898,414.7 906,416.2 914,417.8" fill="none" stroke="#76c1f5" stroke-width="2" stroke-linejoin="round"/>
<line x1="7" y1="249.2" x2="1073" y2="249.2" stroke="#9a9a9a" stroke-width="1.5"/>
<line x1="7" y1="327.5" x2="1073" y2="327.5" stroke="#9a9a9a" stroke-width="1.5"/>
<line x1="7" y1="405" x2="1073" y2="405" stroke="#9a9a9a" stroke-width="1.5"/>
<line x1="7" y1="482.5" x2="1073" y2="482.5" stroke="#9a9a9a" stroke-width="1.5"/>
<line x1="1024.6" y1="39" x2="1024.6" y2="508" stroke="#8a8a8a" stroke-width="1.3"/>
<rect x="6.5" y="39.2" width="1067.2" height="469" fill="none" stroke="#7a7a7a" stroke-width="1.8"/>
<line x1="1024.6" y1="62.0" x2="1029.5" y2="62.0" stroke="#8a8a8a" stroke-width="1"/>
<text x="1033.2" y="65.8" font-size="10.6" fill="#505050" textLength="24.2" lengthAdjust="spacingAndGlyphs">90.00</text>
<line x1="1024.6" y1="89.6" x2="1029.5" y2="89.6" stroke="#8a8a8a" stroke-width="1"/>
<text x="1033.2" y="93.4" font-size="10.6" fill="#505050" textLength="24.2" lengthAdjust="spacingAndGlyphs">80.00</text>
<line x1="1024.6" y1="117.2" x2="1029.5" y2="117.2" stroke="#8a8a8a" stroke-width="1"/>
<text x="1033.2" y="121.0" font-size="10.6" fill="#505050" textLength="24.2" lengthAdjust="spacingAndGlyphs">70.00</text>
<line x1="1024.6" y1="144.8" x2="1029.5" y2="144.8" stroke="#8a8a8a" stroke-width="1"/>
<text x="1033.2" y="148.6" font-size="10.6" fill="#505050" textLength="24.2" lengthAdjust="spacingAndGlyphs">60.00</text>
<line x1="1024.6" y1="172.4" x2="1029.5" y2="172.4" stroke="#8a8a8a" stroke-width="1"/>
<text x="1033.2" y="176.2" font-size="10.6" fill="#505050" textLength="24.2" lengthAdjust="spacingAndGlyphs">50.00</text>
<line x1="1024.6" y1="200.0" x2="1029.5" y2="200.0" stroke="#8a8a8a" stroke-width="1"/>
<text x="1033.2" y="203.8" font-size="10.6" fill="#505050" textLength="24.2" lengthAdjust="spacingAndGlyphs">40.00</text>
<line x1="1024.6" y1="227.6" x2="1029.5" y2="227.6" stroke="#8a8a8a" stroke-width="1"/>
<text x="1033.2" y="231.4" font-size="10.6" fill="#505050" textLength="24.2" lengthAdjust="spacingAndGlyphs">30.00</text>
<line x1="1024.6" y1="271.4" x2="1029.5" y2="271.4" stroke="#8a8a8a" stroke-width="1"/>
<text x="1033.2" y="275.2" font-size="10.6" fill="#505050" textLength="24.2" lengthAdjust="spacingAndGlyphs">60.00</text>
<line x1="1024.6" y1="298.3" x2="1029.5" y2="298.3" stroke="#8a8a8a" stroke-width="1"/>
<text x="1033.2" y="302.1" font-size="10.6" fill="#505050" textLength="24.2" lengthAdjust="spacingAndGlyphs">40.00</text>
<line x1="1024.6" y1="350.6" x2="1029.5" y2="350.6" stroke="#8a8a8a" stroke-width="1"/>
<text x="1033.2" y="354.4" font-size="10.6" fill="#505050" textLength="19.2" lengthAdjust="spacingAndGlyphs">0.00</text>
<line x1="1024.6" y1="377.6" x2="1029.5" y2="377.6" stroke="#8a8a8a" stroke-width="1"/>
<text x="1033.2" y="381.4" font-size="10.6" fill="#505050" textLength="24.2" lengthAdjust="spacingAndGlyphs">−5.00</text>
<line x1="1024.6" y1="423" x2="1029.5" y2="423" stroke="#8a8a8a" stroke-width="1"/>
<text x="1033.2" y="426.8" font-size="10.6" fill="#505050" textLength="29.5" lengthAdjust="spacingAndGlyphs">360.00</text>
<line x1="1024.6" y1="451" x2="1029.5" y2="451" stroke="#8a8a8a" stroke-width="1"/>
<text x="1033.2" y="454.8" font-size="10.6" fill="#505050" textLength="29.5" lengthAdjust="spacingAndGlyphs">320.00</text>
<line x1="1024.6" y1="479" x2="1029.5" y2="479" stroke="#8a8a8a" stroke-width="1"/>
<text x="1033.2" y="482.8" font-size="10.6" fill="#505050" textLength="29.5" lengthAdjust="spacingAndGlyphs">280.00</text>
<line x1="1024.6" y1="325.8" x2="1029.5" y2="325.8" stroke="#8a8a8a" stroke-width="1"/>
<clipPath id="c20"><rect x="1026" y="315" width="46" height="12"/></clipPath>
<text x="1033.2" y="329.6" font-size="10.6" fill="#505050" clip-path="url(#c20)" textLength="24.2" lengthAdjust="spacingAndGlyphs">20.00</text>
<line x1="74.2" y1="482.5" x2="74.2" y2="487" stroke="#8a8a8a" stroke-width="1"/>
<text x="74.2" y="498.5" font-size="10" fill="#505050" text-anchor="middle">15</text>
<line x1="154.2" y1="482.5" x2="154.2" y2="487" stroke="#8a8a8a" stroke-width="1"/>
<text x="154.2" y="498.5" font-size="10" fill="#505050" text-anchor="middle">Feb</text>
<line x1="226.4" y1="482.5" x2="226.4" y2="487" stroke="#8a8a8a" stroke-width="1"/>
<text x="226.4" y="498.5" font-size="10" fill="#505050" text-anchor="middle">12</text>
<line x1="306.1" y1="482.5" x2="306.1" y2="487" stroke="#8a8a8a" stroke-width="1"/>
<text x="306.1" y="498.5" font-size="10" fill="#505050" text-anchor="middle">Mar</text>
<line x1="386.1" y1="482.5" x2="386.1" y2="487" stroke="#8a8a8a" stroke-width="1"/>
<text x="386.1" y="498.5" font-size="10" fill="#505050" text-anchor="middle">15</text>
<line x1="490.3" y1="482.5" x2="490.3" y2="487" stroke="#8a8a8a" stroke-width="1"/>
<text x="490.3" y="498.5" font-size="10" fill="#505050" text-anchor="middle">Apr</text>
<line x1="577.5" y1="482.5" x2="577.5" y2="487" stroke="#8a8a8a" stroke-width="1"/>
<text x="577.5" y="498.5" font-size="10" fill="#505050" text-anchor="middle">19</text>
<line x1="658.5" y1="482.5" x2="658.5" y2="487" stroke="#8a8a8a" stroke-width="1"/>
<text x="658.5" y="498.5" font-size="10" fill="#505050" text-anchor="middle">May</text>
<line x1="737.8" y1="482.5" x2="737.8" y2="487" stroke="#8a8a8a" stroke-width="1"/>
<text x="737.8" y="498.5" font-size="10" fill="#505050" text-anchor="middle">17</text>
<line x1="817.8" y1="482.5" x2="817.8" y2="487" stroke="#8a8a8a" stroke-width="1"/>
<text x="817.8" y="498.5" font-size="10" fill="#505050" text-anchor="middle">Jun</text>
<line x1="890" y1="482.5" x2="890" y2="487" stroke="#8a8a8a" stroke-width="1"/>
<text x="890" y="498.5" font-size="10" fill="#505050" text-anchor="middle">14</text>
<line x1="994.8" y1="482.5" x2="994.8" y2="487" stroke="#8a8a8a" stroke-width="1"/>
<text x="994.8" y="498.5" font-size="10" fill="#505050" text-anchor="middle">Jul</text>
<text x="14.5" y="58.3" font-size="10.9" font-weight="700" fill="#646464" textLength="290" lengthAdjust="spacingAndGlyphs">Nasdaq Comp Stocks Above 50-Day Average, 1D, INDEX</text>
<text x="14.5" y="268.8" font-size="10.6" fill="#6a6a6a" textLength="70.5" lengthAdjust="spacingAndGlyphs">RSI (14, close)</text>
<text x="14.5" y="347" font-size="11" fill="#6a6a6a" textLength="119.5" lengthAdjust="spacingAndGlyphs">MACD (12, 26, close, 9)</text>
<text x="14.5" y="424" font-size="11" fill="#6a6a6a">ADL</text>
<text x="5.5" y="15.3" font-size="12" font-weight="700" fill="#353535" textLength="57.5" lengthAdjust="spacingAndGlyphs">Scorpio244</text>
<text x="67.8" y="15.3" font-size="12" font-weight="400" fill="#5c5c5c" textLength="310" lengthAdjust="spacingAndGlyphs">published on TradingView.com, June 17, 2021 21:24:28 EDT</text>
<text x="5.6" y="30.3" font-size="12" font-weight="700" fill="#353535" textLength="81.8" lengthAdjust="spacingAndGlyphs">INDEX:NCFI, 1D</text>
<text x="93" y="30.3" font-size="12" font-weight="400" fill="#5c5c5c" textLength="28.5" lengthAdjust="spacingAndGlyphs">53.19</text>
<path d="M125.2,22.3 L133.3,22.3 L129.25,30.6 Z" fill="#f04545"/>
<text x="138.5" y="30.3" font-size="12" font-weight="400" fill="#5c5c5c" textLength="76.3" lengthAdjust="spacingAndGlyphs">−2.69 (−4.81%)</text>
<text x="218.8" y="30.3" font-size="12" font-weight="700" fill="#353535" textLength="12" lengthAdjust="spacingAndGlyphs">O:</text>
<text x="232.4" y="30.3" font-size="12" font-weight="400" fill="#f26262" textLength="28.6" lengthAdjust="spacingAndGlyphs">56.38</text>
<text x="265.9" y="30.3" font-size="12" font-weight="700" fill="#353535" textLength="10.7" lengthAdjust="spacingAndGlyphs">H:</text>
<text x="278.5" y="30.3" font-size="12" font-weight="400" fill="#f26262" textLength="28.2" lengthAdjust="spacingAndGlyphs">57.58</text>
<text x="312.2" y="30.3" font-size="12" font-weight="700" fill="#353535" textLength="7.8" lengthAdjust="spacingAndGlyphs">L:</text>
<text x="321.9" y="30.3" font-size="12" font-weight="400" fill="#f26262" textLength="29.1" lengthAdjust="spacingAndGlyphs">49.30</text>
<text x="355.8" y="30.3" font-size="12" font-weight="700" fill="#353535" textLength="10.2" lengthAdjust="spacingAndGlyphs">C:</text>
<text x="367" y="30.3" font-size="12" font-weight="400" fill="#f26262" textLength="28" lengthAdjust="spacingAndGlyphs">53.19</text>
<g fill="rgba(255,255,255,0.35)" stroke="#eaeaea" stroke-width="1"><rect x="915.8" y="487.2" width="37.6" height="38.6" rx="8"/><path d="M921,504 A13,13 0 0 1 947,500" fill="none"/><path d="M924,510 A10,10 0 0 0 944,511" fill="none"/><path d="M927,503 A8,8 0 0 1 942,505 L938,509" fill="none"/><text x="961.7" y="519.6" font-size="37" font-weight="700" textLength="107" lengthAdjust="spacingAndGlyphs">WikiFX</text></g>
<g fill="#2962ff"><circle cx="9.8" cy="527.6" r="4.5"/><circle cx="15.4" cy="523.9" r="5.6"/><circle cx="23.6" cy="527.4" r="4.9"/><rect x="5.6" y="526" width="23" height="6.2" rx="3"/></g><polyline points="6.6,529.8 14.4,524.2 20.2,529.1 26,522.6" fill="none" stroke="#fff" stroke-width="1.4" stroke-linejoin="round"/><circle cx="14.4" cy="524.2" r="1.6" fill="#fff"/><circle cx="20.2" cy="529.1" r="1.6" fill="#fff"/>
<text x="31" y="529.2" font-size="11.4" font-weight="700" fill="#484848" textLength="64" lengthAdjust="spacingAndGlyphs">TradingView</text>
</svg>
</body></html>
